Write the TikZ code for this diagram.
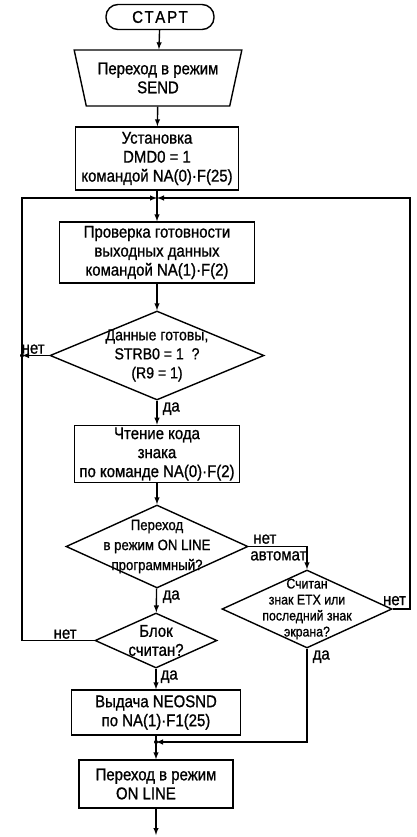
\documentclass[tikz,border=0pt]{standalone}
\usepackage{fontspec}
\setmainfont{Liberation Sans}[FakeStretch=0.88, FakeBold=1]
\usetikzlibrary{arrows}
\usetikzlibrary{shapes.geometric}

\tikzset{
  blk/.style={draw, rectangle, align=center, inner sep=2pt},
  io/.style={draw, trapezium, trapezium left angle=74, trapezium right angle=74,
    shape border rotate=180, trapezium stretches=true, align=center},
  term/.style={draw, rectangle, rounded corners=12pt},
  dec/.style={draw, diamond, inner sep=0pt},
  lbl/.style={inner sep=1pt}
}

\begin{document}
\begin{tikzpicture}[x=1pt, y=-1pt, line width=1.4pt, >=latex,
    font=\fontsize{17}{19}\selectfont]
  \useasboundingbox (0,0) rectangle (416,837);

  \node[term, minimum width=108pt, minimum height=25pt] (start) at (160,17)
    {\addfontfeature{LetterSpace=12}СТАРТ};
  \node[io, minimum width=168pt, minimum height=56pt] (send) at (158,78)
    {Переход в режим\\SEND};
  \node[blk, minimum width=163pt, minimum height=63pt] (set) at (157,158.5)
    {Установка\\DMD0 = 1\\командой NA(0)·F(25)};
  \node[blk, minimum width=195pt, minimum height=61pt] (check) at (157,252.5)
    {Проверка готовности\\выходных данных\\командой NA(1)·F(2)};
  \node[dec, minimum width=214pt, minimum height=89pt] (d1) at (157,355.5) {};
  \node[align=center, font=\fontsize{16}{19}\selectfont] (t1) at (d1)
    {Данные готовы,\\STRB0 = 1\ \ ?\\(R9 = 1)};
  \node[blk, minimum width=165pt, minimum height=52pt] (read) at (157,454)
    {Чтение кода\\знака\\по команде NA(0)·F(2)};
  \node[dec, minimum width=182pt, minimum height=83pt] (d2) at (157,546.5) {};
  \node[align=center, font=\fontsize{15}{20}\selectfont] (t2) at (d2)
    {Переход\\в режим ON LINE\\программный?};
  \node[dec, minimum width=170pt, minimum height=78pt] (d3) at (307,609) {};
  \node[align=center, font=\fontsize{14}{16}\selectfont] (t3) at (d3)
    {Считан\\знак ETX или\\последний знак\\экрана?};
  \node[dec, minimum width=122pt, minimum height=55pt] (d4) at (156,640.5) {};
  \node[align=center] (t4) at (d4) {Блок\\считан?};
  \node[blk, minimum width=169pt, minimum height=45pt] (out) at (156,712.5)
    {Выдача NEOSND\\по NA(1)·F1(25)};
  \node[blk, minimum width=154pt, minimum height=48pt, align=left] (online) at (156,784)
    {Переход в режим\\\hspace{1.2em}ON LINE};

  \coordinate (j1) at (157,198);
  \coordinate (lft) at (22,198);
  \coordinate (rgt) at (410,198);
  \coordinate (j2) at (156,742);
  \coordinate (fin) at (156,835);

  % main line
  \draw[->] (start) -- (send);
  \draw[->] (send) -- (set);
  \draw[->] (set) -- (check);
  \draw[->] (check) -- (d1);
  \draw[->] (d1) -- (read);
  \draw[->] (read) -- (d2);
  \draw[->] (d2) -- (d4);
  \draw[->] (d4) -- (out);
  \draw[->] (out) -- (online);
  \draw[->] (online) -- (fin);

  % loops back
  \draw[->] (d4.west) -| (lft) -- (j1);
  \draw[->] (d1.west) -- (d1.west -| lft);
  \draw[->] (d3.east) -| (rgt) -- (j1);
  \draw[->] (d2.east) -| (d3.north);
  \draw[->] (d3.south) |- (j2);
  \fill (d1.west -| lft) circle (2pt);
  \fill (j2) circle (2pt);

  % labels
  \node[lbl, anchor=south east] (n1) at ([xshift=-3pt]d1.west) {нет};
  \node[lbl, anchor=north west] (y1) at ([xshift=4pt]d1.south) {да};
  \node[lbl, anchor=south west] (n2) at ([xshift=3pt,yshift=1pt]d2.east) {нет};
  \node[lbl, anchor=north west] (a2) at ([yshift=-3pt]d2.east) {автомат};
  \node[lbl, anchor=north west] (y2) at ([xshift=4pt]d2.south) {да};
  \node[lbl, anchor=south east] (n3) at ([xshift=15pt,yshift=2pt]d3.east) {нет};
  \node[lbl, anchor=north west] (y3) at ([xshift=4pt]d3.south) {да};
  \node[lbl, anchor=south east] (n4) at ([xshift=-16pt]d4.west) {нет};
  \node[lbl, anchor=north west] (y4) at ([xshift=3pt]d4.south) {да};
\end{tikzpicture}
\end{document}
